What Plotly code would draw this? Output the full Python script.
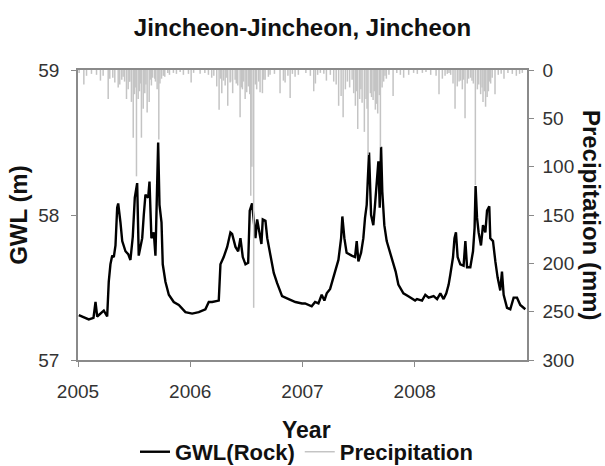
import plotly.graph_objects as go

# Groundwater level (decimal year, m)
gwl_year = [
    2005.007, 2005.096, 2005.138, 2005.156, 2005.171, 2005.200, 2005.230, 2005.260,
    2005.274, 2005.289, 2005.305, 2005.319, 2005.334, 2005.349, 2005.358, 2005.378,
    2005.394, 2005.423, 2005.447, 2005.467, 2005.488, 2005.506, 2005.527, 2005.541,
    2005.572, 2005.586, 2005.601, 2005.625, 2005.637, 2005.654, 2005.675, 2005.690,
    2005.705, 2005.714, 2005.726, 2005.744, 2005.755, 2005.779, 2005.809, 2005.853,
    2005.898, 2005.957,
    2006.017, 2006.076, 2006.135, 2006.165, 2006.195, 2006.254, 2006.269, 2006.298,
    2006.329, 2006.358, 2006.373, 2006.403, 2006.427, 2006.447, 2006.468, 2006.492,
    2006.516, 2006.530, 2006.551, 2006.581, 2006.596, 2006.617, 2006.634, 2006.646,
    2006.670, 2006.686, 2006.714, 2006.744, 2006.774, 2006.818, 2006.877, 2006.937,
    2006.996,
    2007.023, 2007.082, 2007.112, 2007.142, 2007.171, 2007.195, 2007.216, 2007.246,
    2007.260, 2007.290, 2007.320, 2007.344, 2007.355, 2007.373, 2007.393, 2007.438,
    2007.468, 2007.483, 2007.498, 2007.522, 2007.542, 2007.557, 2007.572, 2007.581,
    2007.593, 2007.611, 2007.631, 2007.646, 2007.664, 2007.676, 2007.688, 2007.700,
    2007.711, 2007.729, 2007.750, 2007.780, 2007.809, 2007.830, 2007.854, 2007.899,
    2007.943,
    2008.003, 2008.020, 2008.065, 2008.094, 2008.124, 2008.168, 2008.199, 2008.228,
    2008.257, 2008.281, 2008.302, 2008.317, 2008.341, 2008.354, 2008.367, 2008.382,
    2008.406, 2008.435, 2008.451, 2008.466, 2008.495, 2008.519, 2008.533, 2008.542,
    2008.555, 2008.569, 2008.590, 2008.608, 2008.629, 2008.644, 2008.664, 2008.673,
    2008.697, 2008.718, 2008.738, 2008.762, 2008.777, 2008.792, 2008.822, 2008.851,
    2008.881, 2008.911, 2008.940, 2008.985,
]
gwl_m = [
    57.31, 57.28, 57.29, 57.40, 57.30, 57.32, 57.34, 57.30,
    57.54, 57.66, 57.72, 57.71, 57.79, 58.05, 58.08, 57.95,
    57.82, 57.75, 57.73, 57.69, 57.85, 58.12, 58.22, 57.72,
    57.84, 58.00, 58.14, 58.12, 58.23, 57.84, 57.88, 57.72,
    58.12, 58.50, 58.07, 57.95, 57.66, 57.54, 57.45, 57.40,
    57.38, 57.33,
    57.32, 57.33, 57.35, 57.40, 57.40, 57.41, 57.66, 57.71,
    57.78, 57.88, 57.87, 57.78, 57.75, 57.84, 57.71, 57.66,
    57.67, 58.03, 58.08, 57.84, 57.97, 57.88, 57.80, 57.97,
    57.96, 57.84, 57.71, 57.60, 57.53, 57.44, 57.42, 57.40,
    57.39,
    57.39, 57.37, 57.40, 57.39, 57.45, 57.41, 57.46, 57.49,
    57.53, 57.60, 57.69, 57.84, 57.99, 57.84, 57.74, 57.72,
    57.71, 57.82, 57.68, 57.74, 57.84, 57.98, 58.07, 58.23,
    58.43, 58.00, 57.93, 58.07, 58.30, 58.37, 58.05, 58.47,
    58.16, 57.93, 57.82, 57.74, 57.68, 57.61, 57.52, 57.46,
    57.44,
    57.41, 57.42, 57.41, 57.45, 57.43, 57.44, 57.42, 57.46,
    57.42, 57.46, 57.52, 57.59, 57.71, 57.84, 57.88, 57.71,
    57.66, 57.65, 57.82, 57.64, 57.64, 57.75, 57.91, 58.20,
    57.98, 57.88, 57.79, 57.93, 57.88, 58.03, 58.06, 57.84,
    57.82, 57.68, 57.57, 57.48, 57.61, 57.45, 57.36, 57.35,
    57.43, 57.43, 57.38, 57.35,
]

# Daily precipitation events (decimal year, mm)
rain_year = [
    2005.010, 2005.052, 2005.076, 2005.120, 2005.165, 2005.200, 2005.224, 2005.269,
    2005.283, 2005.310, 2005.328, 2005.358, 2005.372, 2005.390, 2005.402, 2005.415,
    2005.432, 2005.447, 2005.459, 2005.460, 2005.476, 2005.492, 2005.503, 2005.515,
    2005.521, 2005.536, 2005.548, 2005.555, 2005.565, 2005.581, 2005.595, 2005.605,
    2005.616, 2005.634, 2005.645, 2005.654, 2005.665, 2005.684, 2005.690, 2005.705,
    2005.720, 2005.730, 2005.744, 2005.760, 2005.773, 2005.800, 2005.815, 2005.850,
    2005.877, 2005.910, 2005.939, 2005.984,
    2006.008, 2006.030, 2006.088, 2006.130, 2006.162, 2006.191, 2006.210, 2006.236,
    2006.257, 2006.270, 2006.281, 2006.296, 2006.311, 2006.320, 2006.334, 2006.355,
    2006.360, 2006.378, 2006.400, 2006.410, 2006.423, 2006.444, 2006.455, 2006.465,
    2006.475, 2006.489, 2006.503, 2006.518, 2006.530, 2006.539, 2006.549, 2006.565,
    2006.580, 2006.592, 2006.610, 2006.622, 2006.643, 2006.655, 2006.667, 2006.696,
    2006.711, 2006.750, 2006.800, 2006.830, 2006.845, 2006.870, 2006.890, 2006.910,
    2006.934, 2006.963,
    2007.030, 2007.070, 2007.100, 2007.115, 2007.135, 2007.159, 2007.190, 2007.213,
    2007.248, 2007.278, 2007.300, 2007.322, 2007.344, 2007.362, 2007.382, 2007.400,
    2007.420, 2007.442, 2007.456, 2007.471, 2007.480, 2007.492, 2007.509, 2007.520,
    2007.531, 2007.551, 2007.566, 2007.575, 2007.584, 2007.605, 2007.615, 2007.629,
    2007.640, 2007.649, 2007.660, 2007.670, 2007.685, 2007.694, 2007.709, 2007.723,
    2007.735, 2007.747, 2007.770, 2007.807, 2007.840, 2007.872, 2007.901, 2007.946,
    2007.990,
    2008.023, 2008.068, 2008.100, 2008.142, 2008.190, 2008.216, 2008.246, 2008.270,
    2008.290, 2008.305, 2008.320, 2008.341, 2008.359, 2008.379, 2008.395, 2008.409,
    2008.424, 2008.435, 2008.448, 2008.468, 2008.480, 2008.498, 2008.510, 2008.522,
    2008.540, 2008.558, 2008.570, 2008.587, 2008.600, 2008.608, 2008.620, 2008.631,
    2008.645, 2008.656, 2008.665, 2008.676, 2008.690, 2008.715, 2008.744, 2008.770,
    2008.795, 2008.830, 2008.869, 2008.905, 2008.934, 2008.958,
]
rain_mm = [
    3, 15, 6, 4, 5, 11, 6, 30,
    9, 8, 13, 18, 15, 10, 7, 12,
    30, 20, 12, 12, 33, 70, 25, 18,
    110, 30, 22, 14, 70, 40, 24, 15,
    44, 33, 10, 16, 8, 9, 12, 20,
    72, 14, 9, 6, 7, 3, 5, 3,
    4, 2, 5, 4,
    13, 3, 4, 3, 5, 8, 6, 17,
    41, 9, 24, 11, 16, 8, 37, 13,
    12, 24, 10, 14, 16, 49, 18, 20,
    12, 30, 23, 17, 25, 130, 100, 246,
    15, 20, 12, 23, 24, 10, 10, 7,
    5, 4, 24, 11, 13, 6, 29, 4,
    7, 5,
    3, 6, 22, 14, 5, 3, 4, 11,
    5, 12, 15, 37, 27, 49, 20, 12,
    18, 10, 24, 37, 22, 61, 30, 20,
    34, 64, 30, 40, 88, 24, 28, 31,
    22, 41, 35, 45, 26, 80, 18, 12,
    6, 9, 5, 27, 3, 5, 8, 5,
    3,
    4, 3, 2, 5, 6, 25, 9, 6,
    4, 3, 5, 14, 40, 17, 12, 11,
    20, 10, 50, 14, 9, 8, 11, 14,
    119, 20, 15, 25, 18, 33, 22, 38,
    28, 22, 12, 14, 8, 25, 5, 4,
    9, 3, 4, 6, 4, 3,
]

year_ticks = [2005, 2006, 2007, 2008]

# Rain drawn as vertical strokes hanging from the top of the reversed axis
rain_x, rain_y = [], []
for yr, mm in zip(rain_year, rain_mm):
    rain_x += [yr, yr, None]
    rain_y += [0, mm, None]

FONT = "Liberation Sans, Arial, sans-serif"
AXIS_GREY = "#8a8a8a"
TICK_FONT = dict(family=FONT, size=19, color="#333333")

fig = go.Figure()
fig.add_trace(go.Scatter(
    x=gwl_year, y=gwl_m, mode="lines", name="GWL(Rock)",
    line=dict(color="black", width=2.4),
))
fig.add_trace(go.Scatter(
    x=rain_x, y=rain_y, mode="lines", name="Precipitation", yaxis="y2",
    line=dict(color="#c4c4c4", width=1.5), connectgaps=False,
))

axis_common = dict(
    showgrid=False, zeroline=False,
    showline=True, linecolor=AXIS_GREY, linewidth=1.5,
    ticks="outside", ticklen=5, tickcolor=AXIS_GREY, tickwidth=1.2,
    tickfont=TICK_FONT,
)

fig.update_layout(
    width=605, height=466,
    margin=dict(l=78, r=78, t=70, b=106, autoexpand=False),
    paper_bgcolor="white", plot_bgcolor="white",
    font=dict(family=FONT, size=19, color="#333333"),
    title=dict(
        text="<b>Jincheon-Jincheon, Jincheon</b>",
        x=0.5, xanchor="center", y=1 - 28 / 466, yanchor="middle",
        font=dict(family=FONT, size=24, color="#111111"),
    ),
    xaxis=dict(range=[2005, 2009], tickvals=year_ticks,
               ticktext=[str(t) for t in year_ticks], mirror=True,
               ticklabelstandoff=8, **axis_common),
    yaxis=dict(range=[57, 59], dtick=1, ticklabelstandoff=8, **axis_common),
    yaxis2=dict(overlaying="y", side="right", range=[300, 0], dtick=50,
                ticklabelstandoff=5, **axis_common),
    legend=dict(
        orientation="h", x=0.51, xanchor="center", y=-0.317, yanchor="middle",
        font=dict(family=FONT, size=22, color="#111111", weight="bold"),
        itemwidth=30, bgcolor="rgba(0,0,0,0)",
    ),
    showlegend=True,
    annotations=[
        dict(text="<b>Year</b>", xref="paper", yref="paper", x=0.51, y=-0.241,
             xanchor="center", yanchor="middle", showarrow=False,
             font=dict(family=FONT, size=23, color="#111111")),
        dict(text="<b>GWL (m)</b>", xref="paper", yref="paper", x=-0.134, y=0.5,
             xanchor="center", yanchor="middle", textangle=-90, showarrow=False,
             font=dict(family=FONT, size=24, color="#111111")),
        dict(text="<b>Precipitation (mm)</b>", xref="paper", yref="paper", x=1.145, y=0.5,
             xanchor="center", yanchor="middle", textangle=90, showarrow=False,
             font=dict(family=FONT, size=24, color="#111111")),
    ],
)

fig.write_html("out.html")
